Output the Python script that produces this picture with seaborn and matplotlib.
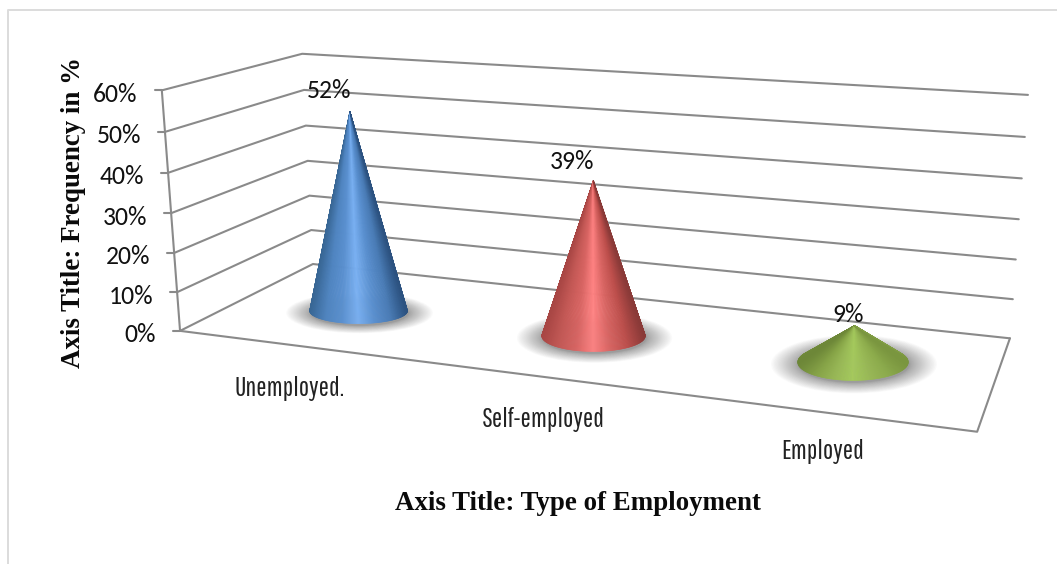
import numpy as np
import pandas as pd
import matplotlib
matplotlib.use("Agg")
import matplotlib.pyplot as plt
from matplotlib.collections import PolyCollection
from matplotlib.colors import LinearSegmentedColormap
from matplotlib.patches import Ellipse
import seaborn as sns

categories = ["Unemployed.", "Self-employed", "Employed"]
shares = [52, 39, 9]
share_labels = ["52%", "39%", "9%"]
axis_levels = [0, 10, 20, 30, 40, 50, 60]
level_labels = ["0%", "10%", "20%", "30%", "40%", "50%", "60%"]

sns.set_theme(style="white")
plt.rcParams["font.family"] = ["Carlito", "Lato", "DejaVu Sans"]
NARROW = ["Pathway Gothic One", "Liberation Sans Narrow", "Lato", "DejaVu Sans"]

GRID = "#8a8a8a"
cone_ramps = [
    ["#386694", "#4f84c0", "#5a90d0", "#79b0f2", "#5a90d0", "#4a7cb6", "#2c5280"],
    ["#a84644", "#c45855", "#d86462", "#ff8282", "#d86462", "#bd4f4c", "#8a3a38"],
    ["#6d8738", "#86a446", "#98b955", "#a5ca5c", "#98b955", "#8cab4b", "#7a963f"],
]
cone_across = [0.52, 1.51, 2.495]
cone_depth = [0.46, 0.486, 0.527]
base_width = [0.218, 0.208, 0.200]
base_aspect = [0.26, 0.30, 0.33]
label_shift = [(-21, -21), (-21, -19), (-7, -11)]
category_shift = [(-5, 43), (0, 43), (-1, 39)]

# Camera calibration: (across, depth, height) -> figure pixels, solved by DLT.
calibration = [
    ((0, 0, 0), (180, 331)), ((3, 0, 0), (977, 432)),
    ((3, 1, 0), (1010, 338)), ((0, 1, 0), (313, 264)),
    ((0, 0, 60), (162, 90)), ((0, 1, 60), (302, 54)),
    ((3, 1, 60), (1028, 95)),
]
rows = []
for (u, d, v), (px, py) in calibration:
    p = [u, d, v / 60, 1]
    x, y = px / 1000, py / 1000
    rows.append(p + [0, 0, 0, 0] + [-x * c for c in p])
    rows.append([0, 0, 0, 0] + p + [-y * c for c in p])
camera = np.linalg.svd(np.array(rows))[2][-1].reshape(3, 4)


def project(u, d, v):
    h = camera @ np.array([u, d, v / 60, 1.0])
    return 1000 * h[0] / h[2], 1000 * h[1] / h[2]


fig = plt.figure(figsize=(10.57, 5.64), dpi=100, facecolor="white")
ax = fig.add_axes([0, 0, 1, 1])

# Wall and floor lines
segments = []
for level in axis_levels:
    segments.append((f"g{level}", [project(0, 0, level), project(0, 1, level), project(3, 1, level)]))
    tip = project(0, 0, level)
    segments.append((f"t{level}", [(tip[0] - 7, tip[1]), tip]))
segments.append(("wall", [project(0, 0, 0), project(0, 0, 60)]))
segments.append(("floor", [project(0, 0, 0), project(3, 0, 0), project(3, 1, 0)]))
frame = pd.DataFrame(
    [(name, i, x, y) for name, pts in segments for i, (x, y) in enumerate(pts)],
    columns=["segment", "order", "x", "y"],
)
sns.lineplot(
    data=frame, x="x", y="y", units="segment", estimator=None, sort=False,
    color=GRID, linewidth=1.5, ax=ax, zorder=2, legend=False,
)

# Value ticks
for level, text in zip(axis_levels, level_labels):
    x, y = project(0, 0, level)
    ax.text(x - 24, y + 4, text, ha="right", va="center", fontsize=18.5, color="#111111")

# Cones, with their floor shadows
for i, value in enumerate(shares):
    u, d = cone_across[i], cone_depth[i]
    cx, cy = project(u, d, 0)
    ax_, ay_ = project(u, d, value)
    left = np.array(project(u - 0.5, d, 0))
    right = np.array(project(u + 0.5, d, 0))
    rx = base_width[i] * np.linalg.norm(right - left)
    ry = rx * base_aspect[i]

    for k in np.linspace(1.0, 0.0, 28) ** 1.4:
        ax.add_patch(Ellipse(
            (cx + 1, cy + 2), 2 * rx * (1 + 0.5 * k), 2 * ry * (1 + 0.6 * k),
            facecolor="#4a4a4a", edgecolor="none", alpha=0.022, zorder=3,
        ))

    cmap = LinearSegmentedColormap.from_list(f"cone{i}", cone_ramps[i])
    lift = np.arcsin(min(0.95, ry / max(cy - ay_, 1e-6)))
    theta = np.linspace(np.pi + lift, -lift, 161)
    ex = cx + rx * np.cos(theta)
    ey = cy + ry * np.sin(theta)
    wedges = [
        [(ax_, ay_), (ex[j], ey[j]), (ex[j + 1], ey[j + 1])]
        for j in range(len(theta) - 1)
    ]
    shades = cmap(((ex[:-1] + ex[1:]) / 2 - (cx - rx)) / (2 * rx))
    ax.add_collection(PolyCollection(
        wedges, facecolors=shades, edgecolors=shades, linewidths=0.4, zorder=4,
    ))

    ax.text(ax_ + label_shift[i][0], ay_ + label_shift[i][1], share_labels[i],
            ha="center", va="center", fontsize=18.5, color="#111111", zorder=5)
    fx, fy = project(i + 0.5, 0, 0)
    ax.text(fx + category_shift[i][0], fy + category_shift[i][1], categories[i],
            ha="center", va="center", fontsize=19.5, color="#222222",
            family=NARROW, zorder=5)

# Axis titles
title_font = dict(family=["Liberation Serif", "DejaVu Serif"], fontweight="bold",
                  fontsize=19.4, color="#0a0a0a")
ax.text(578, 503, "Axis Title: Type of Employment", ha="center", va="center", **title_font)
ax.text(73.5, 212, "Axis Title: Frequency in %", ha="center", va="center", rotation=90, **title_font)

# Light outer frame
ax.plot([8, 8, 1057], [564, 10, 10], color="#dcdcdc", linewidth=1.4, zorder=1)

ax.set_xlim(0, 1057)
ax.set_ylim(564, 0)
ax.set_axis_off()
fig.savefig("out.png", dpi=100, facecolor="white")
